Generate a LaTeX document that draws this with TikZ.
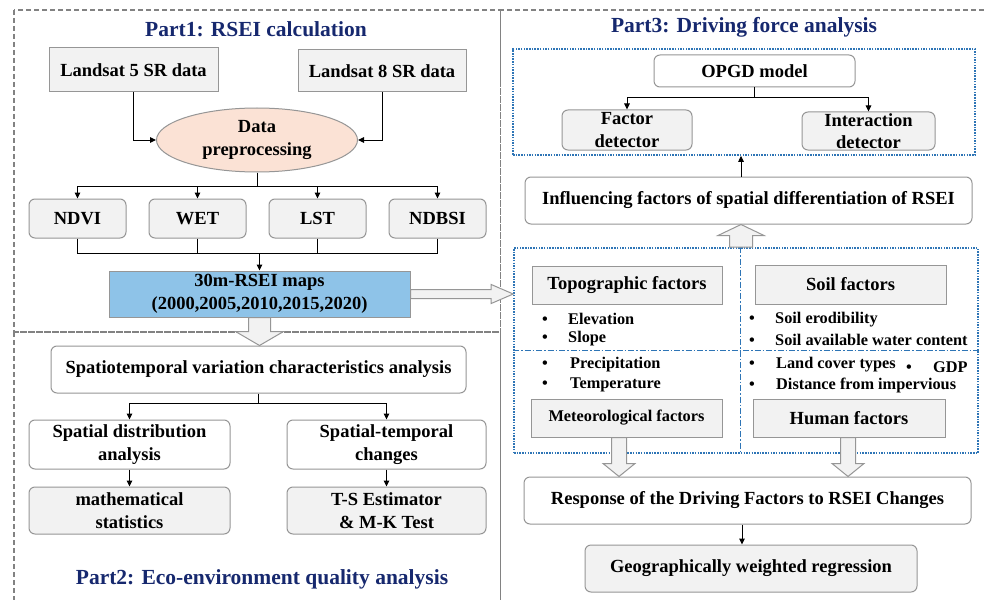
\documentclass[tikz,border=0pt]{standalone}
\usepackage{fontspec}
\setmainfont{Liberation Serif}
\usetikzlibrary{arrows.meta,shapes.geometric,calc}

\definecolor{linegray}{RGB}{150,150,150}
\definecolor{dashgray}{RGB}{130,130,130}
\definecolor{boxgray}{RGB}{242,242,242}
\definecolor{rseiblue}{RGB}{142,195,232}
\definecolor{prepink}{RGB}{251,226,213}
\definecolor{titleblue}{RGB}{22,40,110}
\definecolor{dotblue}{RGB}{46,117,182}

\begin{document}
\begin{tikzpicture}[x=1pt, y=-1pt,
    every node/.style={font=\fontsize{18.5}{22.5}\selectfont\bfseries, align=center, inner sep=0pt},
    graybox/.style={draw=linegray, fill=boxgray, line width=1pt},
    roundbox/.style={graybox, rounded corners=6pt},
    whitebox/.style={roundbox, fill=white},
    small/.style={font=\fontsize{16.3}{19}\selectfont\bfseries},
    item/.style={small, anchor=west},
    title/.style={font=\fontsize{21.5}{24}\selectfont\bfseries, text=titleblue},
    arr/.style={-{Triangle[length=6pt,width=5.5pt]}, line width=1pt},
    hollow/.style={draw=linegray, fill=boxgray, line width=1pt},
    partbox/.style={draw=dashgray, dash pattern=on 5pt off 3pt, line width=1.2pt},
    dotbox/.style={draw=dotblue, dash pattern=on 1.5pt off 1.2pt, line width=1.6pt},
    divline/.style={draw=dotblue, dash pattern=on 6pt off 2pt on 1.5pt off 2pt, line width=0.8pt}]

    % Page frame
    \useasboundingbox (0,0) rectangle (984,599);
    \fill[white] (0,0) rectangle (984,599);
    \clip (0,0) rectangle (984,599);

    % Part 1: RSEI calculation
    \draw[partbox] (14,10) rectangle (500.5,332);
    \node[title] (t1) at (256,29) {Part1: RSEI calculation};

    \node[graybox, minimum width=169, minimum height=44] (l5) at (133.5,70) {Landsat 5 SR data};
    \node[graybox, minimum width=168, minimum height=42] (l8) at (382,71) {Landsat 8 SR data};
    \node[ellipse, draw=linegray, fill=prepink, line width=1pt, minimum width=201, minimum height=64] (prep) at (257,140) {Data\\preprocessing};

    \draw[arr] (l5.south) |- (prep.west);
    \draw[arr] (l8.south) |- (prep.east);

    % Four indices
    \foreach \n/\t/\x in {ndvi/NDVI/77.5, wet/WET/197.5, lst/LST/317.5, ndbsi/NDBSI/437.5}
        \node[roundbox, minimum width=97, minimum height=39] (\n) at (\x,218.5) {\t};

    \coordinate (bus1) at (257,186);
    \draw[line width=1pt] (prep.south) -- (bus1);
    \foreach \n in {ndvi,wet,lst,ndbsi}
        \draw[arr] (bus1) -| (\n.north);

    \node[graybox, fill=rseiblue, minimum width=301, minimum height=46] (rsei) at (259.5,294) {30m-RSEI maps\\(2000,2005,2010,2015,2020)};

    \coordinate (bus2) at (259.5,253);
    \foreach \n in {ndvi,wet,lst,ndbsi}
        \draw[line width=1pt] (\n.south) |- (bus2);
    \draw[arr] (bus2) -- (rsei.north);

    % Part 2: Eco-environment quality analysis
    \draw[partbox] (14,332) rectangle (500.5,620);
    \node[whitebox, minimum width=415, minimum height=47] (spatio) at (258.5,369.5) {Spatiotemporal variation characteristics analysis};

    % Hollow arrow down from the RSEI maps
    \draw[hollow] let \p1=(rsei.south), \p2=(spatio.north) in
        (\x1-11pt,\y1) -- (\x1-11pt,\y2+14pt) -- (\x1-24pt,\y2+14pt) -- (\x1,\y2)
        -- (\x1+24pt,\y2+14pt) -- (\x1+11pt,\y2+14pt) -- (\x1+11pt,\y1) -- cycle;

    \node[whitebox, minimum width=201, minimum height=49] (sdist) at (129.5,444.5) {Spatial distribution\\analysis};
    \node[whitebox, minimum width=199, minimum height=49] (stemp) at (386.5,444.5) {Spatial-temporal\\changes};
    \coordinate (bus3) at (258.5,403);
    \draw[line width=1pt] (spatio.south) -- (bus3);
    \draw[arr] (bus3) -| (sdist.north);
    \draw[arr] (bus3) -| (stemp.north);

    \node[roundbox, minimum width=201, minimum height=47] (math) at (129.5,510.5) {mathematical\\statistics};
    \node[roundbox, minimum width=199, minimum height=47] (ts) at (386.5,510.5) {T-S Estimator\\\& M-K Test};
    \draw[arr] (sdist.south) -- (math.north);
    \draw[arr] (stemp.south) -- (ts.north);

    \node[title] (t2) at (262,579) {Part2: Eco-environment quality analysis};

    % Part 3: Driving force analysis
    \draw[partbox] (500.5,10) rectangle (1000,620);
    \node[title] (t3) at (744,27) {Part3: Driving force analysis};

    \node[dotbox, minimum width=462, minimum height=106] (geo) at (744,102) {};
    \node[whitebox, minimum width=201, minimum height=32] (opgd) at (754.5,71) {OPGD model};
    \node[roundbox, minimum width=130, minimum height=40] (fdet) at (627,130) {Factor\\detector};
    \node[roundbox, minimum width=133, minimum height=38] (idet) at (868.5,131) {Interaction\\detector};
    \coordinate (bus4) at (754.5,98);
    \draw[line width=1pt] (opgd.south) -- (bus4);
    \draw[arr] (bus4) -| (fdet.north);
    \draw[arr] (bus4) -| (idet.north);

    \node[whitebox, minimum width=447, minimum height=47] (infl) at (748.5,200.5) {Influencing factors of spatial differentiation of RSEI};
    \coordinate (ia) at ([xshift=-7.5pt]infl.north);
    \draw[arr] (ia) -- (ia |- geo.south);

    % Factor groups
    \node[dotbox, minimum width=464, minimum height=205] (fac) at (746,350.5) {};
    \draw[divline] ([xshift=-6pt]fac.north) -- ([xshift=-6pt]fac.south);
    \draw[divline] (fac.west) -- (fac.east);

    \node[graybox, minimum width=190, minimum height=38] (topo) at (627,285) {Topographic factors};
    \node[graybox, minimum width=191, minimum height=39] (soil) at (850.5,284.5) {Soil factors};
    \node[graybox, small, minimum width=191, minimum height=38] (meteo) at (626.5,418) {Meteorological factors};
    \node[graybox, minimum width=192, minimum height=38] (human) at (849,418) {Human factors};

    \node[item] (elev) at (542,319) {\makebox[26pt][l]{\textbullet}Elevation};
    \node[item] (slope) at (542,339) {\makebox[26pt][l]{\textbullet}Slope};
    \node[item] (erod) at (749,320) {\makebox[26pt][l]{\textbullet}Soil erodibility};
    \node[item] (water) at (749,340) {\makebox[26pt][l]{\textbullet}Soil available water content};
    \node[item] (prec) at (542,365) {\makebox[28pt][l]{\textbullet}Precipitation};
    \node[item] (temp) at (542,385) {\makebox[28pt][l]{\textbullet}Temperature};
    \node[item] (land) at (749,365) {\makebox[27pt][l]{\textbullet}Land cover types};
    \node[item] (gdp) at (906,367) {\makebox[27pt][l]{\textbullet}GDP};
    \node[item] (dist) at (749,385) {\makebox[27pt][l]{\textbullet}Distance from impervious};

    % Hollow arrow from the RSEI maps into Part 3
    \draw[hollow] let \p1=(rsei.east), \p2=(fac.west) in
        (\x1,\y1+4.5pt) -- (\x2-22pt,\y1+4.5pt) -- (\x2-22pt,\y1+9.5pt) -- (\x2,\y1)
        -- (\x2-22pt,\y1-9.5pt) -- (\x2-22pt,\y1-4.5pt) -- (\x1,\y1-4.5pt) -- cycle;

    % Hollow arrow up to the influencing factors
    \draw[hollow] let \p1=([xshift=-5pt]fac.north), \p2=(infl.south) in
        (\x1-11.5pt,\y1) -- (\x1-11.5pt,\y2-11pt) -- (\x1-23pt,\y2-11pt) -- (\x1,\y2)
        -- (\x1+23pt,\y2-11pt) -- (\x1+11.5pt,\y2-11pt) -- (\x1+11.5pt,\y1) -- cycle;

    \node[whitebox, minimum width=447, minimum height=47] (resp) at (747.5,500.5) {Response of the Driving Factors to RSEI Changes};

    % Hollow arrows down to the response
    \draw[hollow] let \p1=([xshift=-7.5pt]meteo.south), \p2=(resp.north) in
        (\x1-7.5pt,\y1) -- (\x1-7.5pt,\y2+13pt) -- (\x1-16pt,\y2+13pt) -- (\x1,\y2)
        -- (\x1+16pt,\y2+13pt) -- (\x1+7.5pt,\y2+13pt) -- (\x1+7.5pt,\y1) -- cycle;
    \draw[hollow] let \p1=([xshift=-1pt]human.south), \p2=(resp.north) in
        (\x1-7.5pt,\y1) -- (\x1-7.5pt,\y2+13pt) -- (\x1-16pt,\y2+13pt) -- (\x1,\y2)
        -- (\x1+16pt,\y2+13pt) -- (\x1+7.5pt,\y2+13pt) -- (\x1+7.5pt,\y1) -- cycle;

    \node[roundbox, minimum width=332, minimum height=47] (gwr) at (751,568.5) {Geographically weighted regression};
    \coordinate (ra) at ([xshift=-5.5pt]resp.south);
    \draw[arr] (ra) -- (ra |- gwr.north);

\end{tikzpicture}
\end{document}
